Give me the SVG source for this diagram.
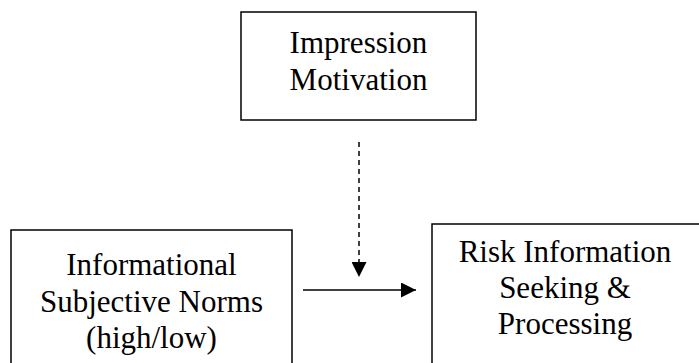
<svg xmlns="http://www.w3.org/2000/svg" width="699" height="363" viewBox="0 0 699 363">
<style>
.box{fill:#fff;stroke:#000;stroke-width:1.5}
.t{font-family:"Liberation Serif","Times New Roman",serif;font-size:31px;fill:#000;text-anchor:middle}
.c{stroke:#000;stroke-width:1.5;fill:none}
</style>
<defs>
<marker id="ah" viewBox="0 0 10 10" refX="10" refY="5" markerWidth="8" markerHeight="8" markerUnits="userSpaceOnUse" orient="auto">
<path d="M0,0 L10,5 L0,10 z" fill="#000"/>
</marker>
<marker id="ah2" viewBox="0 0 10 10" refX="10" refY="5" markerWidth="15" markerHeight="15" markerUnits="userSpaceOnUse" orient="auto">
<path d="M0,0 L10,5 L0,10 z" fill="#000"/>
</marker>
</defs>
<rect width="699" height="363" fill="#fff"/>
<g id="impression">
<rect class="box" x="241" y="12" width="235" height="108"/>
<text class="t" x="358.5" y="53">Impression</text>
<text class="t" x="358.5" y="90">Motivation</text>
</g>
<g id="norms">
<rect class="box" x="11" y="230" width="281" height="140"/>
<text class="t" x="151.5" y="275">Informational</text>
<text class="t" x="151.5" y="312">Subjective Norms</text>
<text class="t" x="151.5" y="348">(high/low)</text>
</g>
<g id="risk">
<rect class="box" x="432" y="224" width="275" height="150"/>
<text class="t" x="565" y="262">Risk Information</text>
<text class="t" x="565" y="298">Seeking &amp;</text>
<text class="t" x="565" y="334">Processing</text>
</g>
<g id="connectors">
<line class="c" x1="359" y1="142" x2="359" y2="277" stroke-dasharray="5,4" marker-end="url(#ah2)"/>
<line class="c" x1="303" y1="290" x2="416" y2="290" marker-end="url(#ah2)"/>
</g>
</svg>
